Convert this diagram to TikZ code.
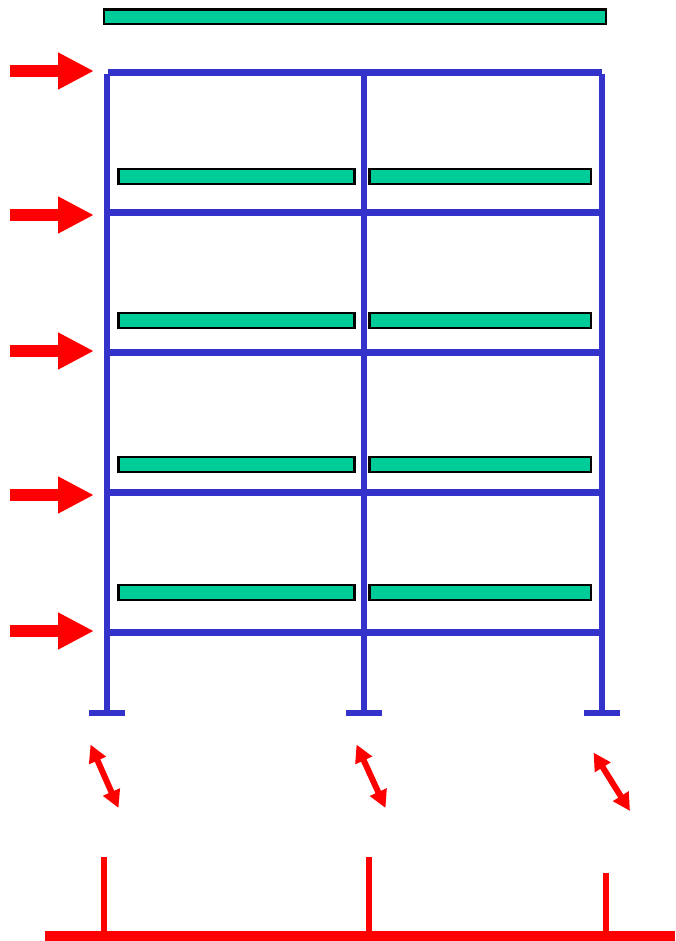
\documentclass[tikz,border=0pt]{standalone}
\usetikzlibrary{arrows.meta}
\definecolor{slab}{HTML}{00CC99}
\definecolor{frameblue}{HTML}{3333CC}
\definecolor{loadred}{HTML}{FF0000}
\tikzset{
  slabbar/.style={draw=black,line width=2.2pt,fill=slab},
  member/.style={draw=frameblue,line width=6.3pt},
  footing/.style={draw=frameblue,line width=6pt},
  loadarrow/.style={draw=loadred,line width=12pt,-{Triangle[length=36pt,width=34.5pt,fill=loadred]}},
  slip/.style={draw=loadred,line width=6pt,{Triangle[length=17.5pt,width=17.5pt,fill=loadred]}-{Triangle[length=17.5pt,width=17.5pt,fill=loadred]}},
  groundstem/.style={draw=loadred,line width=6pt},
  groundbase/.style={draw=loadred,line width=10pt}
}
\begin{document}
\begin{tikzpicture}[x=1pt,y=-1pt]
\useasboundingbox (0,0) rectangle (675,941);
% slabs
\draw[slabbar] (104,9.5) rectangle (606,24);
\foreach \t in {169,313,457,585}{
  \draw[slabbar] (118.5,\t) rectangle (354.5,\t+15);
  \draw[slabbar] (369.5,\t) rectangle (591,\t+15);
}
% columns
\foreach \x in {107,364,602}{
  \draw[member] (\x,74) -- (\x,713);
}
% beams
\foreach \y in {72.5,212.5,352.5,492.5,632.5}{
  \draw[member] (108,\y) -- (602,\y);
}
% footings
\draw[footing] (89,713) -- (125,713);
\draw[footing] (346,713) -- (382,713);
\draw[footing] (584,713) -- (620,713);
% lateral loads
\foreach \y in {71,215,351,495,631}{
  \draw[loadarrow] (10,\y) -- (94,\y);
}
% slip arrows
\draw[slip] (90.5,744.5) -- (118.5,808);
\draw[slip] (356.5,744.5) -- (385.5,808);
\draw[slip] (593.5,752.5) -- (630,811);
% ground
\draw[groundbase] (45,936) -- (675,936);
\draw[groundstem] (103.5,857) -- (103.5,934);
\draw[groundstem] (369,857) -- (369,934);
\draw[groundstem] (605.5,873) -- (605.5,934);
\end{tikzpicture}
\end{document}
